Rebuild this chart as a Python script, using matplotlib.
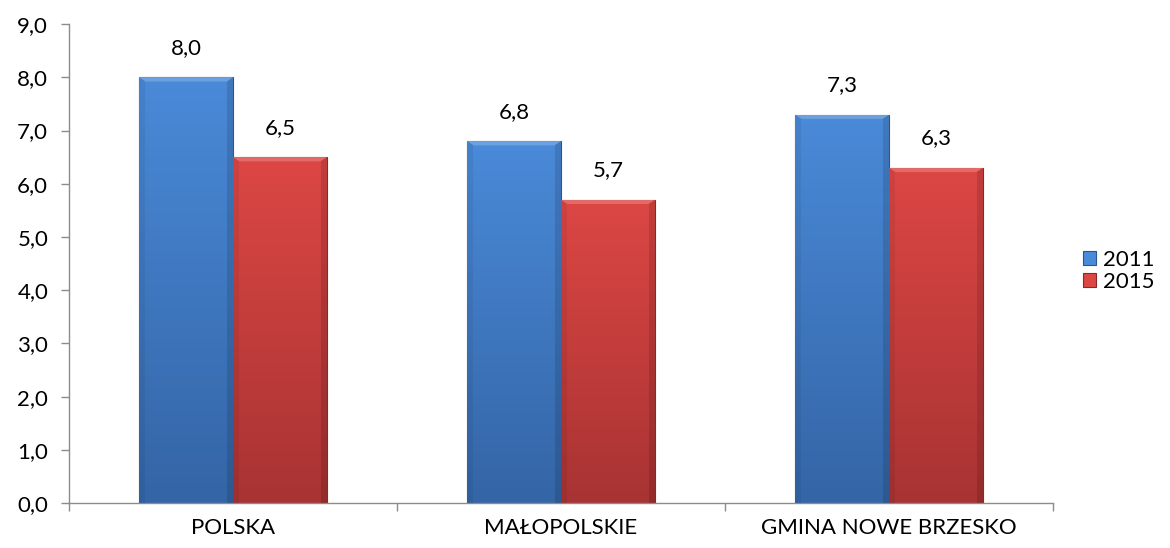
import matplotlib.pyplot as plt
import numpy as np
from matplotlib.colors import LinearSegmentedColormap

categories = ["POLSKA", "MAŁOPOLSKIE", "GMINA NOWE BRZESKO"]
years = ["2011", "2015"]
values_2011 = [8.0, 6.8, 7.3]
values_2015 = [6.5, 5.7, 6.3]

colors = {"2011": ("#4a8ad8", "#3465a6", "#2a5590"),
          "2015": ("#dc4744", "#a83333", "#8a2828")}

plt.rcParams['font.family'] = ['Lato', 'DejaVu Sans']

fig = plt.figure(figsize=(11.7, 5.48), dpi=100)
ax = fig.add_axes([0.059, 0.082, 0.841, 0.874])

x = np.arange(len(categories))
w = 0.286

def fancy_bars(xpos, vals, key, label):
    top, bottom, edge = colors[key]
    bars = ax.bar(xpos, vals, w, color=top, edgecolor=edge, linewidth=0.8,
                  label=label, zorder=2)
    cmap = LinearSegmentedColormap.from_list(key, [bottom, top])
    grad = np.linspace(0, 1, 256).reshape(-1, 1)
    for b in bars:
        x0, y0 = b.get_x(), b.get_y()
        x1, y1 = x0 + b.get_width(), y0 + b.get_height()
        im = ax.imshow(grad, cmap=cmap, origin='lower', aspect='auto',
                       extent=[x0, x1, y0, y1], zorder=2.5)
        im.set_clip_path(b)
        # light bevel at top
        ax.fill([x0, x1, x1 - 0.02, x0 + 0.02], [y1, y1, y1 - 0.08, y1 - 0.08],
                color='white', alpha=0.2, lw=0, zorder=3)
        # darker sides
        ax.fill([x1, x1, x1 - 0.018, x1 - 0.018], [y1, y0, y0, y1 - 0.08],
                color='black', alpha=0.12, lw=0, zorder=3)
        ax.fill([x0, x0, x0 + 0.018, x0 + 0.018], [y1, y0, y0, y1 - 0.08],
                color='black', alpha=0.06, lw=0, zorder=3)
        ax.annotate(f"{b.get_height():.1f}".replace('.', ','),
                    (b.get_x() + b.get_width() / 2, y1),
                    xytext=(0, 14), textcoords='offset points',
                    ha='center', va='bottom', fontsize=16, color='black')
    return bars

fancy_bars(x - w / 2, values_2011, "2011", years[0])
fancy_bars(x + w / 2, values_2015, "2015", years[1])

ax.set_xlim(-0.5, 2.5)
ax.set_ylim(0, 9)
ax.set_yticks(np.arange(0, 10, 1))
ax.set_yticklabels([f"{v:.1f}".replace('.', ',') for v in range(10)])
ax.set_xticks(x)
ax.set_xticklabels(categories)
ax.set_xticks([-0.5, 0.5, 1.5, 2.5], minor=True)
ax.tick_params(axis='x', which='major', length=0, pad=11, labelsize=16)
ax.tick_params(axis='x', which='minor', length=6, color='#8c8c8c', width=1)
ax.tick_params(axis='y', length=6, color='#8c8c8c', width=1, labelsize=16, pad=9)

for s in ['top', 'right']:
    ax.spines[s].set_visible(False)
for s in ['left', 'bottom']:
    ax.spines[s].set_color('#8c8c8c')
    ax.spines[s].set_linewidth(1)

ax.legend(loc='center left', bbox_to_anchor=(1.01, 0.485), frameon=False,
          fontsize=16, handlelength=0.6, handleheight=0.6, handletextpad=0.3,
          labelspacing=0.1)

fig.savefig("out.png", dpi=100)
